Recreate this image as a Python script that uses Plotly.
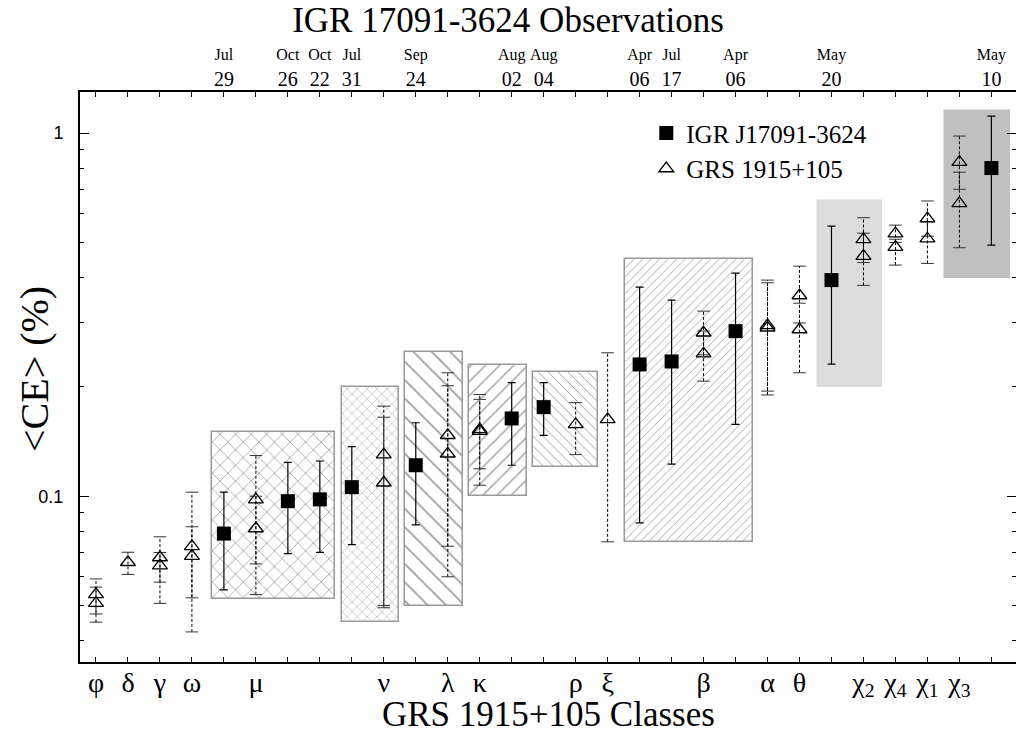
import plotly.graph_objects as go

# ---------------- data ----------------
# bottom axis: GRS 1915+105 classes (position -> label)
class_pos = [1, 2, 3, 4, 6, 10, 12, 13, 16, 17, 20, 22, 23, 25, 26, 27, 28]
class_lbl = ["φ", "δ", "γ", "ω", "μ", "ν", "λ", "κ", "ρ", "ξ", "β", "α", "θ",
             "χ<sub>2</sub>", "χ<sub>4</sub>", "χ<sub>1</sub>", "χ<sub>3</sub>"]

# top axis: IGR observation dates
date_pos = [5, 7, 8, 9, 11, 14, 15, 18, 19, 21, 24, 29]
date_mon = ["Jul", "Oct", "Oct", "Jul", "Sep", "Aug", "Aug", "Apr", "Jul", "Apr", "May", "May"]
date_day = ["29", "26", "22", "31", "24", "02", "04", "06", "17", "06", "20", "10"]

# IGR J17091-3624 (filled squares)
igr_x = [5, 7, 8, 9, 11, 14, 15, 18, 19, 21, 24, 29]
igr_y = [0.0789, 0.0969, 0.098, 0.1059, 0.1217, 0.1637, 0.1759, 0.2306, 0.235, 0.2848, 0.3936, 0.8009]
igr_hi = [0.1026, 0.124, 0.125, 0.137, 0.1593, 0.2056, 0.2056, 0.3764, 0.3467, 0.4115, 0.5544, 1.1138]
igr_lo = [0.0552, 0.0695, 0.070, 0.0736, 0.0834, 0.1217, 0.147, 0.0845, 0.1225, 0.1576, 0.231, 0.4914]

# GRS 1915+105 (open triangles)
grs_x = [1, 1, 2, 3, 3, 4, 4, 6, 6, 10, 10, 12, 12, 13, 13, 16, 17,
         20, 20, 22, 22, 23, 23, 25, 25, 26, 26, 27, 27, 28, 28]
grs_y = [0.0537, 0.0508, 0.0658, 0.0678, 0.0644, 0.0728, 0.0684, 0.0979, 0.0815,
         0.1302, 0.1089, 0.1472, 0.1309, 0.1527, 0.151, 0.1576, 0.1627,
         0.2819, 0.2468, 0.2953, 0.291, 0.357, 0.2878, 0.5095, 0.4584,
         0.5283, 0.4853, 0.581, 0.5117, 0.832, 0.640]
grs_hi = [0.0592, 0.0562, 0.0701, 0.0773, 0.0700, 0.1026, 0.0824, 0.1294, 0.100,
          0.177, 0.165, 0.2187, 0.2014, 0.1906, 0.1848, 0.181, 0.2483,
          0.3233, 0.285, 0.3936, 0.387, 0.43, 0.34, 0.5847, 0.53,
          0.5578, 0.51, 0.65, 0.57, 0.981, 0.78]
grs_lo = [0.0474, 0.045, 0.0609, 0.0580, 0.0507, 0.0525, 0.0423, 0.0651, 0.0536,
          0.0493, 0.050, 0.0728, 0.060, 0.119, 0.1072, 0.1302, 0.0749,
          0.245, 0.2074, 0.1947, 0.19, 0.30, 0.2187, 0.44, 0.3806,
          0.50, 0.4329, 0.52, 0.4375, 0.70, 0.4833]

# shaded class regions: x-extent, y-extent, fill style
box_x0 = [4.63, 8.68, 10.67, 12.67, 14.67, 17.54, 23.57, 27.56]
box_x1 = [8.47, 10.47, 12.49, 14.48, 16.70, 21.55, 25.59, 29.58]
box_y0 = [0.052, 0.045, 0.050, 0.100, 0.120, 0.075, 0.200, 0.400]
box_y1 = [0.150, 0.200, 0.250, 0.230, 0.220, 0.450, 0.650, 1.150]
box_pattern = ["x", "x", "\\", "/", "\\", "/", "", ""]
box_psize = [11, 7, 13, 10, 7, 6, 8, 8]
box_fill = ["white", "white", "white", "white", "white", "white", "#dcdcdc", "#c0c0c0"]
box_edge = ["#999999"] * 6 + ["#dcdcdc", "#c0c0c0"]

tick_pos = list(range(1, 30))
y_major = [0.1, 1]
y_major_lbl = ["0.1", "1"]
y_minor = [0.04, 0.05, 0.06, 0.07, 0.08, 0.09, 0.2, 0.3, 0.4, 0.5, 0.6, 0.7, 0.8, 0.9]

# ---------------- figure ----------------
SERIF = "Liberation Serif, Times New Roman, serif"
SANS = "Liberation Sans, Arial, sans-serif"
X_RANGE = [0.5, 29.77]
Y_RANGE = [-1.4565, 0.113]

fig = go.Figure()

for i in range(len(box_x0)):
    mk = dict(color=box_fill[i], line=dict(color=box_edge[i], width=1.5))
    if box_pattern[i]:
        mk["pattern"] = dict(shape=box_pattern[i], size=box_psize[i], solidity=0.14,
                             fgcolor="#404040", bgcolor=box_fill[i], fillmode="overlay")
    fig.add_trace(go.Bar(
        x=[(box_x0[i] + box_x1[i]) / 2], y=[box_y1[i] - box_y0[i]], base=[box_y0[i]],
        width=[box_x1[i] - box_x0[i]], marker=mk, showlegend=False, hoverinfo="skip"))

# GRS dotted error bars
ex, ey = [], []
for xv, lo, hi in zip(grs_x, grs_lo, grs_hi):
    ex += [xv, xv, None]
    ey += [lo, hi, None]
fig.add_trace(go.Scatter(x=ex, y=ey, mode="lines",
                         line=dict(color="black", width=1, dash="3px,2px"),
                         showlegend=False, hoverinfo="skip"))
fig.add_trace(go.Scatter(x=grs_x + grs_x, y=grs_hi + grs_lo, mode="markers",
                         marker=dict(symbol="line-ew", size=9, color="#333",
                                     line=dict(color="#333", width=1)),
                         showlegend=False, hoverinfo="skip"))

# IGR squares with solid error bars
fig.add_trace(go.Scatter(
    x=igr_x, y=igr_y, mode="markers", name="IGR J17091-3624",
    marker=dict(symbol="square", size=14, color="black"),
    error_y=dict(type="data", symmetric=False,
                 array=[h - v for h, v in zip(igr_hi, igr_y)],
                 arrayminus=[v - l for v, l in zip(igr_y, igr_lo)],
                 color="black", thickness=1.2, width=4),
    legendgroup="a"))

# GRS triangles
fig.add_trace(go.Scatter(
    x=grs_x, y=grs_y, mode="markers", name="GRS 1915+105",
    marker=dict(symbol="triangle-up-open", size=13, color="black",
                line=dict(color="black", width=1.3)),
    legendgroup="b"))

# dummy traces so overlay axes exist
fig.add_trace(go.Scatter(x=[1], y=[0.1], xaxis="x2", yaxis="y", mode="markers",
                         marker=dict(opacity=0), showlegend=False, hoverinfo="skip"))
fig.add_trace(go.Scatter(x=[1], y=[0.1], xaxis="x", yaxis="y2", mode="markers",
                         marker=dict(opacity=0), showlegend=False, hoverinfo="skip"))

top_text = [f"<span style='font-size:16px'>{m}</span><br>{d}" for m, d in zip(date_mon, date_day)]

fig.update_layout(
    width=1016, height=734,
    margin=dict(l=80, r=0, t=92, b=72),
    paper_bgcolor="white", plot_bgcolor="white",
    barmode="overlay", bargap=0,
    font=dict(family=SERIF, color="black"),
    title=dict(text="IGR 17091-3624 Observations", x=0.5, xref="container",
               xanchor="center", y=0.99, yref="container", yanchor="top",
               font=dict(family=SERIF, size=35, color="black")),
    xaxis=dict(range=X_RANGE, tickmode="array", tickvals=class_pos, ticktext=class_lbl,
               ticks="inside", ticklen=5, tickwidth=1, tickcolor="black",
               showline=True, linewidth=2, linecolor="black", showgrid=False,
               zeroline=False, tickfont=dict(family=SERIF, size=28, color="black"),
               ticklabelstandoff=-6,
               minor=dict(tickmode="array", tickvals=tick_pos, ticks="inside",
                          ticklen=5, tickwidth=1, tickcolor="black", showgrid=False)),
    xaxis2=dict(range=X_RANGE, overlaying="x", side="top", anchor="y",
                tickmode="array", tickvals=date_pos, ticktext=top_text,
                ticks="inside", ticklen=5, tickwidth=1, tickcolor="black",
                showline=True, linewidth=2, linecolor="black", showgrid=False,
                zeroline=False, tickfont=dict(family=SERIF, size=20, color="black"),
                ticklabelstandoff=-4,
                minor=dict(tickmode="array", tickvals=tick_pos, ticks="inside",
                           ticklen=5, tickwidth=1, tickcolor="black", showgrid=False)),
    yaxis=dict(type="log", range=Y_RANGE, tickmode="array", tickvals=y_major,
               ticktext=y_major_lbl, ticks="inside", ticklen=9, tickwidth=1,
               tickcolor="black", showline=True, linewidth=2, linecolor="black",
               showgrid=False, zeroline=False,
               tickfont=dict(family=SANS, size=18, color="black"),
               ticklabelstandoff=11,
               minor=dict(tickmode="array", tickvals=y_minor, ticks="inside",
                          ticklen=4, tickwidth=1, tickcolor="black", showgrid=False)),
    yaxis2=dict(type="log", range=Y_RANGE, overlaying="y", side="right", anchor="x",
                tickmode="array", tickvals=y_major, ticks="inside", ticklen=9,
                tickwidth=1, tickcolor="black", showticklabels=False,
                showline=False, showgrid=False, zeroline=False,
                minor=dict(tickmode="array", tickvals=y_minor, ticks="inside",
                           ticklen=4, tickwidth=1, tickcolor="black", showgrid=False)),
    legend=dict(x=0.605, y=0.968, xanchor="left", yanchor="top",
                bgcolor="rgba(0,0,0,0)", borderwidth=0,
                font=dict(family=SERIF, size=25, color="black"),
                tracegroupgap=0, itemwidth=30),
    annotations=[
        dict(text="GRS 1915+105 Classes", xref="paper", yref="paper", x=0.5, y=0,
             xanchor="center", yanchor="top", yshift=-31, showarrow=False,
             font=dict(family=SERIF, size=35, color="black")),
        dict(text="&lt;CE&gt; (%)", xref="paper", yref="paper", x=0, y=0.5,
             xanchor="center", yanchor="middle", xshift=-46, yshift=8, textangle=-90,
             showarrow=False, font=dict(family=SERIF, size=40, color="black")),
    ],
)

fig.write_html("out.html")
